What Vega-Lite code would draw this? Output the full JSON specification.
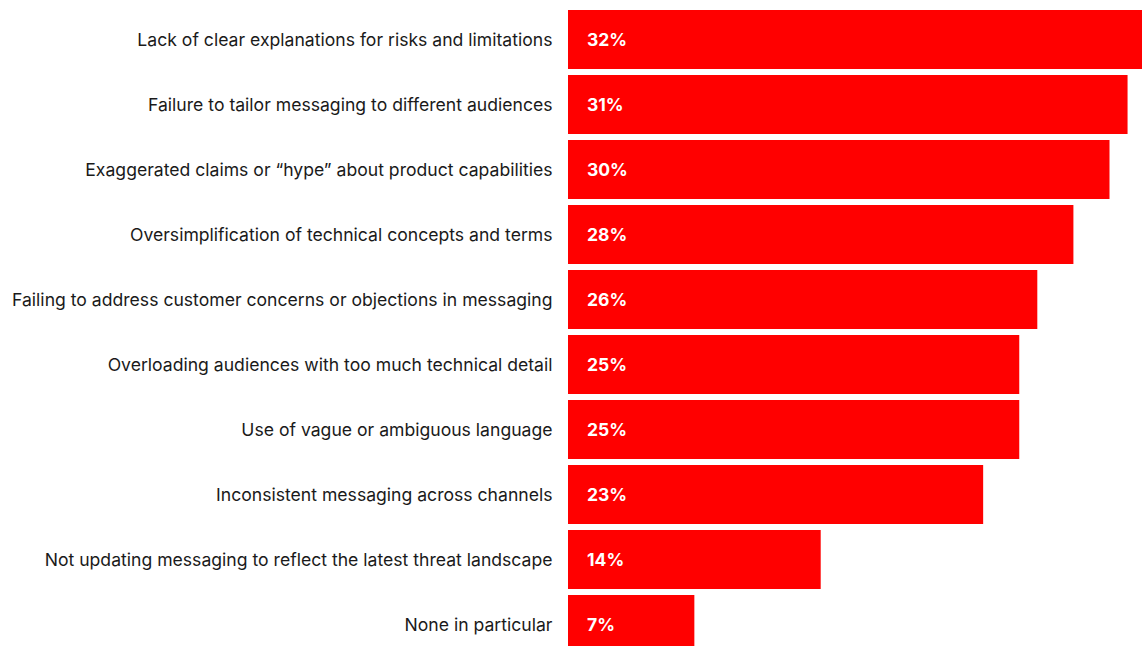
{
  "$schema": "https://vega.github.io/schema/vega-lite/v6.json",
  "width": 574,
  "height": 646,
  "autosize": {"type": "none"},
  "padding": {"left": 568, "top": 0, "right": 0, "bottom": 0},
  "background": "white",
  "config": {"view": {"stroke": null}},
  "data": {
    "values": [
      {"issue": "Lack of clear explanations for risks and limitations", "pct": 32},
      {"issue": "Failure to tailor messaging to different audiences", "pct": 31},
      {"issue": "Exaggerated claims or “hype” about product capabilities", "pct": 30},
      {"issue": "Oversimplification of technical concepts and terms", "pct": 28},
      {"issue": "Failing to address customer concerns or objections in messaging", "pct": 26},
      {"issue": "Overloading audiences with too much technical detail", "pct": 25},
      {"issue": "Use of vague or ambiguous language", "pct": 25},
      {"issue": "Inconsistent messaging across channels", "pct": 23},
      {"issue": "Not updating messaging to reflect the latest threat landscape", "pct": 14},
      {"issue": "None in particular", "pct": 7}
    ]
  },
  "encoding": {
    "y": {
      "field": "issue",
      "type": "nominal",
      "sort": null,
      "title": null,
      "scale": {"range": [10, 654], "paddingInner": 0.0923, "paddingOuter": 0},
      "axis": {
        "ticks": false,
        "domain": false,
        "labelPadding": 16,
        "labelOffset": 1.5,
        "labelFont": "Inter",
        "labelFontSize": 17.6,
        "labelColor": "#1a1a1a",
        "labelLimit": 600
      }
    }
  },
  "layer": [
    {
      "mark": {"type": "bar", "color": "#ff0000", "clip": true},
      "encoding": {
        "x": {
          "field": "pct",
          "type": "quantitative",
          "scale": {"domain": [0, 31.8], "nice": false},
          "axis": null
        }
      }
    },
    {
      "transform": [{"calculate": "datum.pct + '%'", "as": "label"}],
      "mark": {
        "type": "text",
        "align": "left",
        "baseline": "middle",
        "dx": 19,
        "dy": 1.5,
        "font": "Inter",
        "fontSize": 17.5,
        "fontWeight": "bold",
        "letterSpacing": 0.8,
        "color": "white"
      },
      "encoding": {
        "x": {"datum": 0, "type": "quantitative"},
        "text": {"field": "label", "type": "nominal"}
      }
    }
  ]
}
